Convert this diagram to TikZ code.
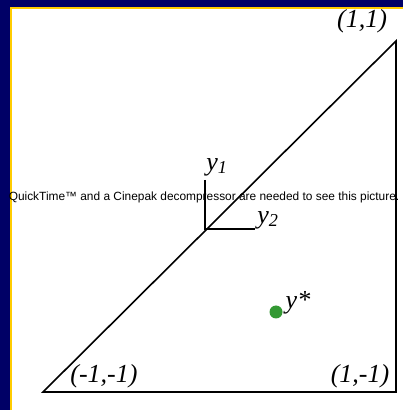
\documentclass[tikz,border=0pt]{standalone}
\usepackage{fontspec}
\setmainfont{Liberation Serif}
\newfontfamily\qtfont{Liberation Sans}
\definecolor{slidenavy}{RGB}{0,0,102}
\definecolor{slidegold}{RGB}{255,204,0}
\definecolor{dotgreen}{RGB}{51,153,51}

\tikzset{
  corner/.style={font=\fontsize{26}{26}\selectfont\itshape, inner sep=0pt},
  axis/.style={line width=1.6pt},
  edge/.style={line width=1.6pt}
}

\begin{document}
\begin{tikzpicture}[x=1pt,y=1pt]
  \useasboundingbox (0,0) rectangle (403,410);
  % Slide background and frame
  \fill[slidenavy] (0,0) rectangle (403,410);
  \fill[white] (10,0) rectangle (403,402);
  \draw[slidegold, line width=1.5pt] (10.8,0) -- (10.8,401.8) -- (403,401.8);
  % Triangle corners
  \coordinate (mm) at (43,18);
  \coordinate (pm) at (396,18);
  \coordinate (pp) at (396,369);
  \draw[edge, line join=miter] (mm) -- (pm) -- (pp) -- cycle;
  % Local axes
  \coordinate (o) at (205,181);
  \coordinate (y1end) at (205,230);
  \coordinate (y2end) at (255,181);
  \draw[axis] (y1end) -- (o) -- (y2end);
  \node[corner] (y1) at (217,243) {y\textsubscript{1}};
  \node[corner] (y2) at (268,190) {y\textsubscript{2}};
  % Placeholder text of the missing movie
  \node[font=\qtfont\fontsize{11.9}{12}\selectfont, inner sep=0pt] (qt) at (204,213)
    {QuickTime™ and a Cinepak decompressor are needed to see this picture.};
  % Corner labels
  \node[corner] (lpp) at (362,389) {(1,1)};
  \node[corner] (lmm) at (104,34) {(-1,-1)};
  \node[corner] (lpm) at (360,34) {(1,-1)};
  % Optimum
  \fill[dotgreen] (276,98) circle (6.5);
  \node[corner] (ystar) at (298,107) {y*};
\end{tikzpicture}
\end{document}
